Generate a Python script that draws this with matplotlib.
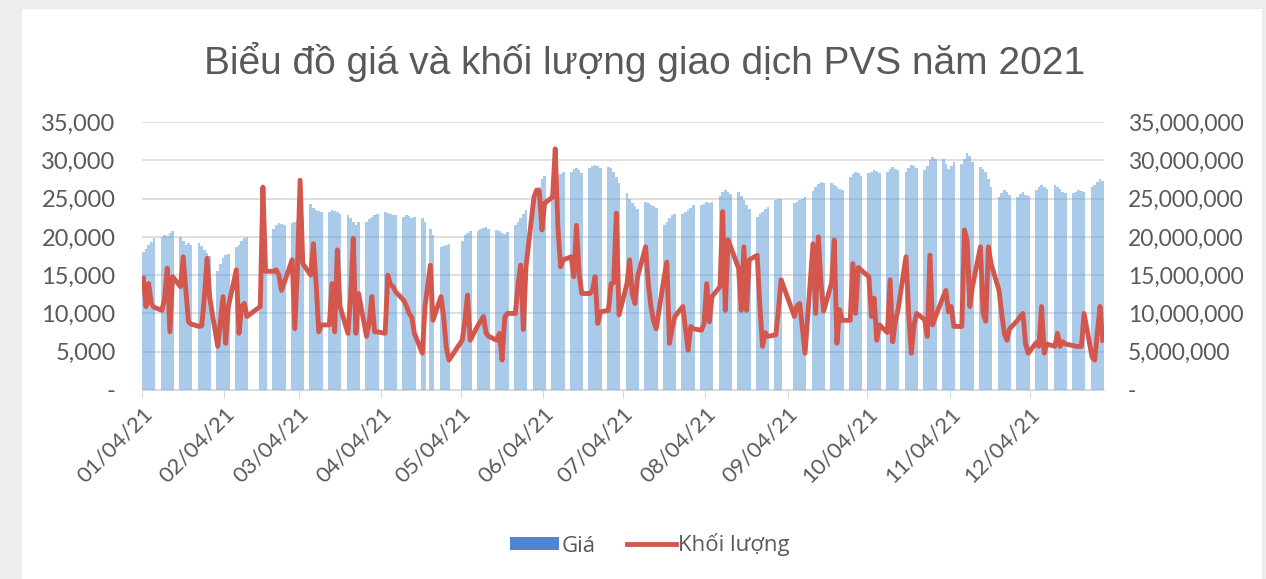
import numpy as np
import pandas as pd
import matplotlib
matplotlib.use("Agg")
import matplotlib.pyplot as plt
import matplotlib.dates as mdates
from matplotlib.patches import Patch, Rectangle
from matplotlib.lines import Line2D
from matplotlib.ticker import FuncFormatter, MultipleLocator

# trading days 2021 as they show in the chart (weekends and closed days removed)
holidays = ["2021-01-01", "2021-02-15", "2021-02-16", "2021-04-21", "2021-04-30",
            "2021-05-03", "2021-09-02", "2021-09-03"]
dates = pd.bdate_range("2021-01-04", "2021-12-31")
dates = dates[~dates.isin(pd.to_datetime(holidays))]

# closing price (VND), one line per week
price = [
    18000, 18400, 18900, 19300, 19800,
    20000, 20300, 20100, 20500, 20700,
    20000, 19400, 19000, 19200, 18900,
    19200, 18800, 18300, 17900, 17500,
    15500, 16500, 17300, 17600, 17800,
    18700, 19000, 19400, 19800, 20000,
    18000, 18300, 18500,
    21000, 21500, 21800, 21700, 21600,
    21800, 22000, 22200, 22400, 22300,
    24300, 23800, 23500, 23400, 23300,
    23300, 23500, 23400, 23200, 23000,
    22800, 22400, 22000, 21600, 22000,
    22000, 22300, 22600, 22800, 23000,
    23200, 23100, 23000, 22900, 22800,
    22600, 22800, 22700, 22500, 22600,
    22500, 22000, 21000, 20300,
    18700, 18800, 19000, 19100,
    19500, 20200, 20500, 20800,
    20800, 21000, 21100, 21300, 21000,
    20900, 20700, 20500, 20400, 20600,
    21500, 21900, 22500, 23000, 23500,
    24500, 25500, 26500, 27500, 28000,
    27200, 27500, 27800, 28200, 28500,
    28500, 28900, 29000, 28700, 28300,
    29000, 29300, 29400, 29200, 29000,
    29100, 29000, 28500, 27800, 27000,
    25700, 25000, 24400, 24000, 23600,
    24600, 24400, 24200, 24000, 23800,
    21600, 22000, 22400, 22800, 23000,
    23000, 23300, 23500, 23800, 24100,
    24100, 24300, 24500, 24400, 24600,
    25400, 25800, 26100, 25900, 25600,
    25900, 25300, 24800, 24200, 23600,
    22600, 23000, 23300, 23600, 23900,
    24800, 25000, 24900,
    24400, 24600, 24800, 25000, 25200,
    26000, 26500, 26900, 27200, 27000,
    27000, 26800, 26500, 26300, 26100,
    27800, 28200, 28500, 28300, 28000,
    28300, 28500, 28700, 28600, 28400,
    28500, 28800, 29100, 28900, 28700,
    28500, 29000, 29400, 29200, 29000,
    28700, 29300, 30000, 30400, 30200,
    30200, 29500, 28900, 29300, 29800,
    29500, 30200, 30900, 30500, 29800,
    29100, 28800, 28500, 27500, 26500,
    25200, 25700, 26100, 25800, 25500,
    25200, 25600, 25900, 25500, 25300,
    26100, 26500, 26800, 26500, 26300,
    26800, 26500, 26200, 25900, 25700,
    25700, 25900, 26100, 26000, 25800,
    26500, 26800, 27200, 27600, 27300,
]

# traded volume (thousand shares), one line per week
volume = [
    14600, 10900, 13900, 11300, 10800,
    10400, 12000, 15900, 7600, 14800,
    13500, 17400, 13000, 8900, 8600,
    8300, 8400, 12200, 17200, 12000,
    5700, 9000, 12200, 6100, 10900,
    15700, 7400, 10900, 11300, 9600,
    10900, 26500, 15500,
    15500, 15700, 15000, 13000, 14000,
    17000, 8000, 16000, 27400, 16500,
    15000, 19100, 14000, 7600, 8500,
    8500, 13900, 7600, 18300, 10900,
    7400, 12200, 19800, 7400, 12600,
    7000, 8900, 12200, 7600, 7600,
    7400, 15000, 13800, 13500, 12800,
    11700, 11000, 10000, 9500, 7400,
    4800, 10900, 16300, 9100,
    12200, 9600, 5600, 3900,
    6500, 9000, 12400, 6500,
    8500, 9000, 9600, 7400, 7000,
    6500, 7400, 3900, 9500, 10000,
    10000, 13900, 16300, 7900, 16100,
    25200, 26100, 26000, 20900, 24400,
    25200, 31500, 21300, 16100, 17000,
    17400, 14800, 21500, 15200, 12600,
    12600, 13000, 14800, 8700, 10200,
    10400, 13900, 14000, 23100, 9800,
    13900, 17000, 12500, 11300, 14800,
    18700, 14000, 10900, 9000, 8000,
    14800, 16700, 6100, 8000, 9600,
    10900, 8000, 5200, 8300, 8000,
    7800, 8700, 13900, 8900, 12200,
    13500, 23300, 10400, 19600, 18700,
    15900, 10400, 18700, 10400, 17000,
    17600, 11000, 5700, 7500, 7000,
    7200, 10500, 14400,
    9600, 11000, 11300, 8000, 4800,
    19100, 10000, 20000, 14000, 10300,
    14000, 19600, 6100, 10500, 9100,
    9100, 16500, 10000, 16000, 15700,
    14800, 9600, 12000, 6500, 8500,
    7500, 14400, 6300, 9000, 10500,
    17400, 10000, 4800, 8500, 10000,
    9200, 7000, 17600, 8500, 9500,
    12200, 13000, 10200, 10900, 8300,
    8300, 20900, 19500, 10900, 13500,
    18700, 10000, 9000, 18700, 16500,
    13000, 10000, 7400, 6500, 8000,
    9100, 9600, 10000, 6000, 4800,
    6200, 5700, 10900, 4800, 6000,
    5700, 7400, 5700, 6300, 6000,
    5800, 5700, 5700, 5700, 10000,
    4300, 3900, 7500, 10900, 6500,
]

# axis ticks: the 4th of every month
tick_dates = pd.date_range("2021-01-01", periods=12, freq="MS") + pd.Timedelta(days=3)

x = mdates.date2num(dates) + 0.5
vol = np.array(volume) * 1000

W, H = 1266, 579
fig = plt.figure(figsize=(W / 100, H / 100), dpi=100, facecolor="#ededed")
fig.patches.append(Rectangle((22 / W, 0), 1240 / W, 1 - 9 / H, transform=fig.transFigure,
                             facecolor="white", edgecolor="none", zorder=-10))

ax = fig.add_axes([142 / W, 1 - 390 / H, (1104 - 142) / W, (390 - 122) / H])
ax.set_facecolor("none")
ax2 = ax.twinx()

grey = "#595959"
ax.bar(x, price, width=1.0, color="#5b9bd5", alpha=0.52, linewidth=0, zorder=2)
ax2.plot(x, vol, color="#d4574e", lw=3.5, solid_joinstyle="round", zorder=3)

ax.set_xlim(mdates.date2num(pd.Timestamp("2021-01-04")), mdates.date2num(pd.Timestamp("2022-01-01")))
ax.set_ylim(0, 35000)
ax2.set_ylim(0, 35000000)
ax.yaxis.set_major_locator(MultipleLocator(5000))
ax2.yaxis.set_major_locator(MultipleLocator(5000000))

fmt = FuncFormatter(lambda v, p: "-" if v == 0 else f"{v:,.0f}")
ax.yaxis.set_major_formatter(fmt)
ax2.yaxis.set_major_formatter(fmt)

ax.set_xticks(mdates.date2num(tick_dates))
ax.set_xticklabels([d.strftime("%m/%d/%y") for d in tick_dates], rotation=45,
                   ha="right", rotation_mode="anchor")

ax.grid(axis="y", color="#d9d9d9", lw=1.2)
ax.set_axisbelow(True)
for a in (ax, ax2):
    for s in ("top", "left", "right"):
        a.spines[s].set_visible(False)
    a.spines["bottom"].set_color("#d9d9d9")
ax2.spines["bottom"].set_visible(False)

ax.tick_params(axis="y", length=0, pad=19, labelcolor=grey, labelsize=17)
ax2.tick_params(axis="y", length=0, pad=17, labelcolor=grey, labelsize=16.5)
ax.tick_params(axis="x", length=6, color="#d9d9d9", pad=4, labelcolor=grey, labelsize=16)
for lab in ax.get_xticklabels() + ax.get_yticklabels() + ax2.get_yticklabels():
    lab.set_fontfamily("Lato")

fig.text(645 / W, 1 - 62 / H, "Biểu đồ giá và khối lượng giao dịch PVS năm 2021",
         ha="center", va="center", fontsize=28, color=grey, family="Liberation Sans")

handles = [Patch(facecolor="#4f86cf", edgecolor="none"),
           Line2D([], [], color="#d4574e", lw=3.5)]
fig.legend(handles, ["Giá", "Khối lượng"], loc="center", ncol=2,
           bbox_to_anchor=(650 / W, 1 - 545 / H), frameon=False,
           prop={"family": "Open Sans", "size": 16}, labelcolor=grey,
           handlelength=2.2, handletextpad=0.1, columnspacing=1.4, handleheight=0.5)

fig.savefig("out.png", dpi=100, facecolor=fig.get_facecolor())
